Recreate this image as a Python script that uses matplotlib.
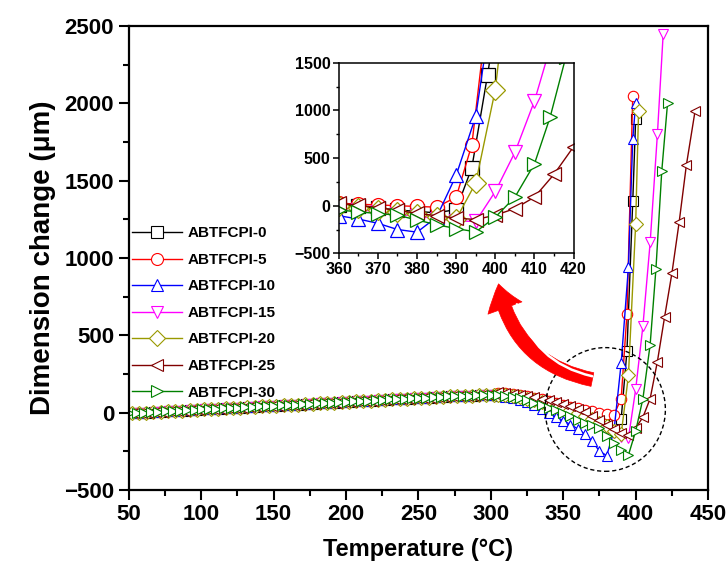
"""
Thermal dimension change of ABTFCPI films (TMA), with zoomed inset
around the softening onset.
"""

import numpy as np
import matplotlib.pyplot as plt
from matplotlib.patches import Ellipse

plt.rcParams['font.family'] = ['Liberation Sans', 'DejaVu Sans']
plt.rcParams['font.weight'] = 'bold'

# ── Data ────────────────────────────────────────────────────────────────────
labels = ['ABTFCPI-0', 'ABTFCPI-5', 'ABTFCPI-10', 'ABTFCPI-15',
          'ABTFCPI-20', 'ABTFCPI-25', 'ABTFCPI-30']
colors = ['#000000', '#FF0000', '#0000FF', '#FF00FF',
          '#999900', '#800000', '#008000']
markers = ['s', 'o', '^', 'v', 'D', '<', '>']

# common low-temperature part, 50-300 °C
base_temp = np.arange(50, 301, 5)
base_dim = [-5, -3, 0, 2, 5, 8, 10, 12, 15, 17, 20, 22, 25, 27, 30, 32, 35,
            37, 40, 42, 45, 47, 50, 52, 55, 57, 60, 62, 65, 67, 70, 72, 75,
            77, 80, 82, 85, 87, 90, 92, 95, 97, 100, 102, 104, 106, 108, 110,
            112, 114, 116]
base_shift = [2.5, 1.5, 0.0, 3.0, 2.0, 4.0, 0.5]

# high-temperature part, per sample
tail_temp = {
    'ABTFCPI-0':  [305, 310, 315, 320, 325, 330, 335, 340, 345, 350, 355, 360,
                   365, 370, 375, 380, 385, 390, 394, 398, 400],
    'ABTFCPI-5':  [305, 310, 315, 320, 325, 330, 335, 340, 345, 350, 355, 360,
                   365, 370, 375, 380, 385, 390, 394, 398],
    'ABTFCPI-10': [305, 310, 315, 320, 325, 330, 335, 340, 345, 350, 355, 360,
                   365, 370, 375, 380, 385, 390, 395, 398, 400],
    'ABTFCPI-15': [305, 310, 315, 320, 325, 330, 335, 340, 345, 350, 355, 360,
                   365, 370, 375, 380, 385, 390, 395, 400, 405, 410, 415, 419],
    'ABTFCPI-20': [305, 310, 315, 320, 325, 330, 335, 340, 345, 350, 355, 360,
                   365, 370, 375, 380, 385, 390, 395, 400, 402],
    'ABTFCPI-25': [305, 310, 315, 320, 325, 330, 335, 340, 345, 350, 355, 360,
                   365, 370, 375, 380, 385, 390, 395, 400, 405, 410, 415, 420,
                   425, 430, 435, 441],
    'ABTFCPI-30': [305, 310, 315, 320, 325, 330, 335, 340, 345, 350, 355, 360,
                   365, 370, 375, 380, 385, 390, 395, 400, 405, 410, 414, 418,
                   422],
}
tail_dim = {
    'ABTFCPI-0':  [118, 115, 110, 103, 95, 85, 74, 62, 50, 37, 24, 10, -5,
                   -25, -45, -60, -75, -40, 400, 1370, 1900],
    'ABTFCPI-5':  [128, 125, 120, 113, 105, 96, 86, 75, 63, 50, 38, 28, 15,
                   8, 0, -8, -15, 90, 640, 2050],
    'ABTFCPI-10': [108, 102, 94, 82, 66, 46, 22, -2, -28, -52, -78, -105,
                   -140, -185, -250, -278, -120, 320, 940, 1770, 2000],
    'ABTFCPI-15': [114, 110, 104, 95, 85, 73, 60, 45, 30, 15, 0, -20, -40,
                   -65, -90, -110, -135, -160, -165, 150, 560, 1100, 1800,
                   2450],
    'ABTFCPI-20': [116, 112, 106, 99, 90, 80, 68, 55, 42, 28, 14, 0, -20,
                   -40, -65, -90, -120, -140, 240, 1220, 1950],
    'ABTFCPI-25': [130, 127, 122, 116, 108, 99, 89, 78, 66, 53, 40, 25, 5,
                   -20, -50, -80, -105, -130, -145, -100, -30, 90, 330, 620,
                   900, 1230, 1600, 1950],
    'ABTFCPI-30': [115, 110, 102, 92, 80, 65, 48, 32, 15, -5, -25, -45, -65,
                   -82, -100, -150, -200, -240, -275, -120, 90, 440, 930,
                   1560, 2000],
}

# ── Figure ──────────────────────────────────────────────────────────────────
fig = plt.figure(figsize=(7.27, 5.77), dpi=100)
ax = fig.add_axes([0.177, 0.151, 0.797, 0.804])
axin = fig.add_axes([0.466, 0.561, 0.323, 0.330])


def draw(a, ms, mew):
    for i, lab in enumerate(labels):
        t = list(base_temp + base_shift[i]) + tail_temp[lab]
        d = base_dim + tail_dim[lab]
        a.plot(t, d, color=colors[i], marker=markers[i], ms=ms, mew=mew,
               mfc='white', mec=colors[i], lw=1.0, label=lab)


draw(ax, 7.5, 0.8)
draw(axin, 10, 0.9)

# main axes
ax.set_xlim(50, 450)
ax.set_ylim(-500, 2500)
ax.set_xticks(np.arange(50, 451, 50))
ax.set_xticks(np.arange(75, 450, 50), minor=True)
ax.set_yticks(np.arange(-500, 2501, 500))
ax.set_yticks(np.arange(-250, 2500, 500), minor=True)
ax.tick_params(which='major', direction='out', length=7, width=1.5,
               labelsize=16, top=False, right=False)
ax.tick_params(which='minor', direction='out', length=4, width=1.5,
               top=False, right=False)
for s in ax.spines.values():
    s.set_linewidth(1.6)
ax.set_xlabel('Temperature (°C)', fontsize=17, fontweight='bold', labelpad=9)
ax.set_ylabel('Dimension change (μm)', fontsize=20, fontweight='bold',
              labelpad=6)

leg = ax.legend(loc='upper left', bbox_to_anchor=(0.005, 0.568), frameon=False,
                fontsize=11, handlelength=3.3, handletextpad=0.35,
                labelspacing=0.82, borderaxespad=0, borderpad=0, numpoints=1,
                markerscale=1.15)

# dashed circle around the onset region
ax.add_patch(Ellipse((379, 20), 83, 800, fill=False, ls=(0, (3, 2)),
                     lw=1.0, ec='black', zorder=5))

# red curved arrow pointing to the inset
ax.annotate('', xy=(305, 850), xytext=(372, 210),
            arrowprops=dict(arrowstyle='simple,head_width=2.6,head_length=1.8,'
                            'tail_width=1.0',
                            connectionstyle='arc3,rad=-0.35',
                            fc='red', ec='red', lw=0.5), zorder=6)
ax.annotate('', xy=(318, 700), xytext=(370, 235),
            arrowprops=dict(arrowstyle='-', color='white', lw=1.8,
                            connectionstyle='arc3,rad=-0.3',
                            shrinkA=0, shrinkB=0), zorder=7)

# inset
axin.set_xlim(360, 420)
axin.set_ylim(-500, 1500)
axin.set_xticks(np.arange(360, 421, 10))
axin.set_xticks(np.arange(365, 420, 10), minor=True)
axin.set_yticks(np.arange(-500, 1501, 500))
axin.set_yticks(np.arange(-250, 1500, 500), minor=True)
axin.tick_params(which='major', direction='out', length=4, width=1.1,
                 labelsize=11.5, pad=2)
axin.tick_params(which='minor', direction='out', length=2.5, width=1.0)
for s in axin.spines.values():
    s.set_linewidth(1.1)

plt.savefig('out.png', dpi=100)
